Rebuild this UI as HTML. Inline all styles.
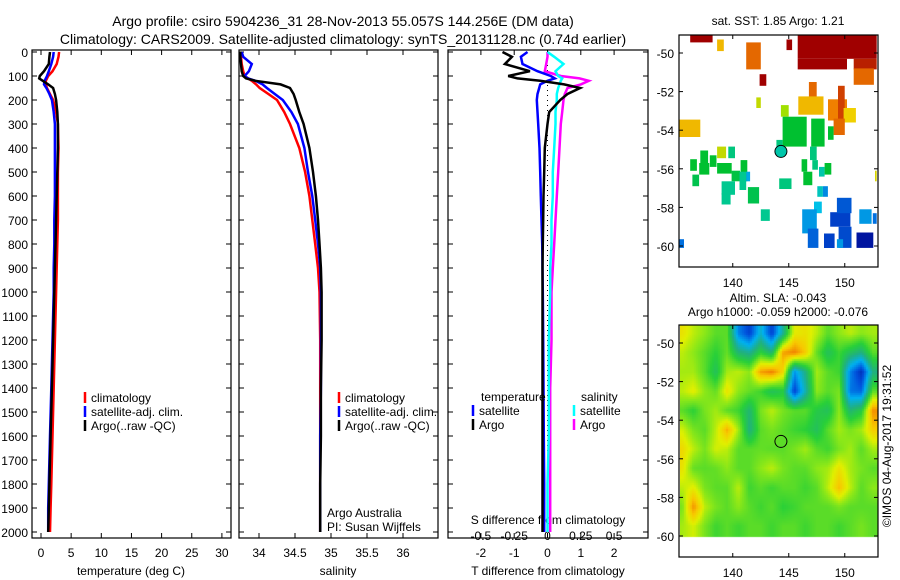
<!DOCTYPE html>
<html><head><meta charset="utf-8">
<style>
html,body{margin:0;padding:0;background:#fff;}
svg{display:block;font-family:"Liberation Sans",sans-serif;}
canvas{position:absolute;}
</style></head>
<body>
<div style="position:relative;width:900px;height:580px;">
<canvas id="sla" width="198" height="213" style="left:680px;top:325px;"></canvas>
<svg id="fig" width="900" height="580" viewBox="0 0 900 580" style="position:absolute;left:0;top:0;"></svg>
</div>
<script>
// ---------- data ----------
const depths = [0,20,50,80,100,110,120,135,150,175,200,250,300,400,500,600,700,800,900,1000,1200,1400,1600,1800,1900,2000];
const tempArgo = [1.5,1.4,1.3,0.5,-0.2,-0.3,0.3,1.2,2.0,2.3,2.5,2.7,2.8,2.8,2.7,2.6,2.5,2.4,2.3,2.2,2.0,1.8,1.6,1.4,1.3,1.2];
const tempClim = [3.0,2.9,2.6,1.9,1.2,1.0,0.8,0.8,1.0,1.5,2.0,2.5,2.8,2.9,2.8,2.8,2.8,2.7,2.6,2.5,2.3,2.1,1.9,1.7,1.6,1.5];
const tempSat  = [2.1,2.0,1.7,1.3,1.0,0.8,0.6,0.5,0.9,1.4,1.8,2.1,2.3,2.3,2.3,2.3,2.2,2.2,2.1,2.1,1.9,1.7,1.5,1.3,1.2,1.2];
const salArgo = [33.74,33.74,33.75,33.76,33.78,33.82,33.95,34.3,34.43,34.48,34.51,34.56,34.62,34.70,34.75,34.79,34.82,34.84,34.86,34.87,34.87,34.86,34.86,34.85,34.85,34.85];
const salClim = [33.75,33.75,33.76,33.78,33.80,33.85,33.9,33.96,34.01,34.13,34.25,34.35,34.43,34.56,34.64,34.70,34.74,34.78,34.82,34.84,34.85,34.85,34.85,34.85,34.85,34.85];
const salSat  = [33.76,33.78,33.9,33.86,33.8,33.85,33.95,34.05,34.11,34.22,34.33,34.45,34.54,34.63,34.68,34.74,34.78,34.82,34.85,34.86,34.86,34.86,34.85,34.85,34.85,34.85];
const dTArgo = [-1.35,-1.07,-1.28,-0.53,-1.18,-0.9,-0.22,0.5,0.98,0.6,0.38,0.05,0.0,-0.08,-0.1,-0.12,-0.13,-0.14,-0.15,-0.15,-0.15,-0.15,-0.15,-0.15,-0.15,-0.15];
const dTSat  = [-0.6,-0.8,-0.75,-0.3,0.1,0.22,0.0,-0.22,-0.25,-0.3,-0.32,-0.3,-0.28,-0.24,-0.22,-0.2,-0.18,-0.16,-0.15,-0.14,-0.13,-0.12,-0.11,-0.1,-0.1,-0.1];
const dSArgo = [0.0,0.0,-0.01,-0.02,0.1,0.24,0.31,0.25,0.15,0.13,0.12,0.11,0.10,0.09,0.08,0.07,0.06,0.05,0.04,0.03,0.03,0.02,0.02,0.02,0.02,0.02];
const dSSat  = [0.0,0.05,0.12,0.06,0.08,0.11,0.10,0.09,0.08,0.07,0.07,0.06,0.06,0.05,0.04,0.04,0.03,0.03,0.02,0.02,0.01,0.01,0.01,0.0,0.0,0.0];
const depthTicks = [0,100,200,300,400,500,600,700,800,900,1000,1100,1200,1300,1400,1500,1600,1700,1800,1900,2000];
const tempTicks = [0,5,10,15,20,25,30];
const salTicks = [34,34.5,35,35.5,36];
const dTTicks = [-2,-1,0,1,2];
const dSTicks = [-0.5,-0.25,0,0.25,0.5];
const lonTicks = [140,145,150];
const latTicks = [-50,-52,-54,-56,-58,-60];
const argoLon = 144.3, argoLat = -55.1;
const sstPatches = [
[136.2,-49.05,138.2,-49.45,1],[138.6,-49.3,139.2,-49.9,.75],[141.2,-49.45,142.5,-50.85,.85],[142.4,-51.1,143,-51.7,1],
[144.8,-49.3,145.3,-49.85,1],[145.8,-49.05,152.85,-50.3,1],[145.8,-50.3,150.2,-50.85,1],[150.8,-50.3,152.85,-50.85,.95],
[150.8,-50.8,152.6,-51.65,.85],[146.8,-51.5,147.5,-52.4,.85],[145.85,-52.25,148.1,-53.2,.75],[148.5,-52.4,150.2,-53.5,.82],
[149.4,-51.7,150,-53.5,.9],[149.9,-52.85,151,-53.6,.72],[149,-53.4,150,-54.25,.85],[142.1,-52.3,142.5,-52.85,.68],
[144.3,-52.7,145,-53.3,.65],[144.45,-53.3,146.6,-54.85,.55],[147,-53.4,148.2,-54.85,.55],[148.5,-53.8,149,-54.5,.55],
[143.9,-54.5,144.45,-55,.47],[146.9,-54.85,147.5,-55.55,.47],[147.1,-55.55,147.6,-56.05,.47],[146.15,-55.5,146.65,-56.15,.55],
[146.3,-56.15,147.1,-56.85,.55],[147.7,-55.9,148.2,-56.4,.42],[148.2,-55.7,148.8,-56.3,.55],[144.15,-56.5,145.25,-57.05,.47],
[147.55,-56.9,148.05,-57.45,.4],[148.05,-56.9,148.5,-57.45,.28],[152.7,-56.1,152.85,-56.65,.7],[135.2,-53.45,137.1,-54.35,.75],
[137.1,-55.05,137.8,-56.2,.55],[136.2,-55.5,136.8,-56.1,.55],[136.4,-56.3,137,-56.9,.52],[137,-55.7,137.9,-56.3,.55],
[137.95,-55.3,138.55,-55.9,.55],[138.6,-54.85,139.4,-55.45,.68],[139.6,-54.85,140.2,-55.45,.47],[138.6,-55.7,139.9,-56.25,.55],
[139.9,-56.1,140.65,-56.65,.53],[139,-56.65,140.2,-57.35,.45],[139,-57.25,139.8,-57.85,.45],[140.7,-55.55,141.3,-56.65,.55],
[140.6,-56.15,141.2,-57.1,.45],[141.2,-56.15,141.55,-56.65,.32],[141.35,-56.95,142.35,-57.8,.52],[142.5,-58.1,143.3,-58.7,.45],
[147.25,-57.7,147.95,-58.3,.35],[146.2,-58.1,147.5,-59.35,.3],[146.7,-59.1,147.65,-60.1,.22],[148.15,-59.35,149.1,-60.1,.15],
[148.7,-58.25,150.5,-59,.15],[149.3,-57.5,150.6,-58.3,.2],[149.45,-59,150.6,-60.1,.17],[149.3,-59.65,149.85,-60.1,.3],
[151.05,-59.3,152.55,-60.1,.05],[151.3,-58.1,152.4,-58.85,.3],[152.5,-58.3,152.85,-58.85,.25],[135.2,-59.65,135.65,-60.1,.25]
];
const slaLats = [-49.5,-50.5,-51.5,-52.5,-53.5,-54.5,-55.5,-56.5,-57.5,-58.5,-59.5];
const slaLons = [135.5,136.5,137.5,138.5,139.5,140.5,141.5,142.5,143.5,144.5,145.5,146.5,147.5,148.5,149.5,150.5,151.5,152.5];
const slaGrid = [
[.70,.64,.60,.55,.55,.22,.12,.32,.12,.38,.68,.70,.64,.55,.60,.64,.60,.62],
[.64,.60,.55,.50,.56,.42,.38,.50,.42,.80,.84,.74,.56,.45,.52,.45,.40,.55],
[.62,.62,.55,.45,.62,.64,.60,.80,.84,.72,.24,.40,.62,.55,.52,.22,.08,.40],
[.64,.68,.60,.56,.70,.60,.56,.52,.45,.48,.12,.35,.60,.55,.58,.20,.18,.55],
[.55,.50,.58,.62,.55,.52,.42,.58,.64,.58,.55,.55,.48,.45,.60,.42,.48,.82],
[.66,.58,.55,.64,.78,.62,.40,.55,.58,.55,.52,.50,.45,.55,.62,.58,.62,.74],
[.72,.64,.58,.66,.64,.55,.55,.56,.55,.55,.58,.62,.55,.52,.58,.62,.55,.62],
[.70,.56,.55,.56,.60,.55,.55,.60,.64,.58,.55,.55,.60,.62,.70,.62,.58,.55],
[.64,.68,.58,.55,.55,.64,.52,.55,.52,.55,.55,.52,.55,.64,.76,.64,.55,.60],
[.58,.82,.64,.58,.55,.60,.55,.52,.55,.50,.52,.55,.55,.55,.58,.55,.55,.55],
[.62,.66,.58,.52,.55,.52,.55,.55,.52,.55,.55,.52,.55,.55,.52,.55,.58,.55]
];

// ---------- helpers ----------
const NS='http://www.w3.org/2000/svg';
const svg=document.getElementById('fig');
function el(tag,attrs,parent,text){const e=document.createElementNS(NS,tag);for(const k in attrs)e.setAttribute(k,attrs[k]);if(text!==undefined)e.textContent=text;(parent||svg).appendChild(e);return e;}
function txt(x,y,s,anchor,size,parent){return el('text',{x:x,y:y,'font-size':size||12,'text-anchor':anchor||'start',fill:'#000'},parent,s);}
const Y0=52, YS=0.24, YTOP=50, YBOT=538;
const yD=d=>Y0+d*YS;

function panel(x0,x1,name){
  const g=el('g',{});
  
  
  el('rect',{x:x0,y:YTOP,width:x1-x0,height:YBOT-YTOP,fill:'#fff',stroke:'#000','stroke-width':1.2},g);
  depthTicks.forEach(d=>{el('line',{x1:x0,x2:x0+5,y1:yD(d),y2:yD(d),stroke:'#000'},g);el('line',{x1:x1-5,x2:x1,y1:yD(d),y2:yD(d),stroke:'#000'},g);});
  return g;
}
function line(xs,xf,color,g,name,w){
  const pts=depths.map((d,i)=>xf(xs[i]).toFixed(1)+','+yD(d).toFixed(1)).join(' ');
  const p=el('polyline',{points:pts,fill:'none',stroke:color,'stroke-width':w||2.5},g);
  
  
}
function legendEntry(x,y,color,label,g,name){
  const lg=el('g',{},g);
  
  
  if(color)el('line',{x1:x,x2:x,y1:y-10,y2:y+1,stroke:color,'stroke-width':2.5},lg);
  txt(x+6,y,label,'start',12,lg);
}

const tt=el('g',{});


txt(343,26,'Argo profile: csiro 5904236_31 28-Nov-2013 55.057S 144.256E (DM data)','middle',14,tt);
txt(343,44,'Climatology: CARS2009. Satellite-adjusted climatology: synTS_20131128.nc (0.74d earlier)','middle',14,tt);

// panel 1
const tX=v=>41+v*6.03;
const p1=panel(32,231,'temperature-panel');
depthTicks.forEach(d=>{const t=txt(28,yD(d)+5,String(d),'end',12);});
tempTicks.forEach(v=>{el('line',{x1:tX(v),x2:tX(v),y1:YTOP,y2:YTOP+5,stroke:'#000'},p1);el('line',{x1:tX(v),x2:tX(v),y1:YBOT-5,y2:YBOT,stroke:'#000'},p1);txt(tX(v),557,String(v),'middle',12,p1);});
txt(131,575,'temperature (deg C)','middle',12,p1);
line(tempClim,tX,'#ff0000',p1,'temp-climatology-line');
line(tempSat,tX,'#0000ff',p1,'temp-satellite-line');
line(tempArgo,tX,'#000000',p1,'temp-argo-line');
legendEntry(85,402,'#ff0000','climatology',p1,'legend-climatology');
legendEntry(85,416,'#0000ff','satellite-adj. clim.',p1,'legend-satellite');
legendEntry(85,430,'#000000','Argo(..raw -QC)',p1,'legend-argo');

// panel 2
const sX=v=>259+(v-34)*72;
const p2=panel(239,438,'salinity-panel');
salTicks.forEach(v=>{el('line',{x1:sX(v),x2:sX(v),y1:YTOP,y2:YTOP+5,stroke:'#000'},p2);el('line',{x1:sX(v),x2:sX(v),y1:YBOT-5,y2:YBOT,stroke:'#000'},p2);txt(sX(v),557,String(v),'middle',12,p2);});
txt(338,575,'salinity','middle',12,p2);
line(salClim,sX,'#ff0000',p2,'sal-climatology-line');
line(salSat,sX,'#0000ff',p2,'sal-satellite-line');
line(salArgo,sX,'#000000',p2,'sal-argo-line');
legendEntry(339,402,'#ff0000','climatology',p2,'legend-climatology-2');
legendEntry(339,416,'#0000ff','satellite-adj. clim.',p2,'legend-satellite-2');
legendEntry(339,430,'#000000','Argo(..raw -QC)',p2,'legend-argo-2');
txt(327,517,'Argo Australia','start',12,p2);
txt(327,531,'PI: Susan Wijffels','start',12,p2);

// panel 3
const dT=v=>547.5+v*33.3, dS=v=>547.5+v*133.2;
const p3=panel(448,648,'difference-panel');
dTTicks.forEach(v=>{el('line',{x1:dT(v),x2:dT(v),y1:YTOP,y2:YTOP+5,stroke:'#000'},p3);el('line',{x1:dT(v),x2:dT(v),y1:YBOT-5,y2:YBOT,stroke:'#000'},p3);txt(dT(v),557,String(v),'middle',12,p3);});
txt(548,524,'S difference from climatology','middle',12,p3);
dSTicks.forEach(v=>{txt(dS(v),540,String(v),'middle',12,p3);});
el('line',{x1:dT(0),x2:dT(0),y1:YTOP,y2:YBOT,stroke:'#000','stroke-dasharray':'1,4'},p3);
line(dSArgo,dS,'#ff00ff',p3,'sal-diff-argo-line');
line(dSSat,dS,'#00ffff',p3,'sal-diff-satellite-line');
line(dTSat,dT,'#0000ff',p3,'temp-diff-satellite-line');
line(dTArgo,dT,'#000000',p3,'temp-diff-argo-line');
legendEntry(475,401,null,'temperature',p3,'legend-temperature-heading');
legendEntry(473,415,'#0000ff','satellite',p3,'legend-temp-satellite');
legendEntry(473,429,'#000000','Argo',p3,'legend-temp-argo');
legendEntry(575,401,null,'salinity',p3,'legend-salinity-heading');
legendEntry(574,415,'#00ffff','satellite',p3,'legend-sal-satellite');
legendEntry(574,429,'#ff00ff','Argo',p3,'legend-sal-argo');
txt(548,575,'T difference from climatology','middle',12,p3);

// maps
const mX=lon=>679+(lon-135.2)*11.2;
function mapFrame(top,bot,latRef,name){
  const mY=lat=>latRef+(-50-lat)*19.3;
  const g=el('g',{});
  
  
  return {g,mY,top,bot};
}
function mapAxes(m){
  el('rect',{x:679,y:m.top,width:199,height:m.bot-m.top,fill:'none',stroke:'#000','stroke-width':1.2},m.g);
  lonTicks.forEach(v=>{el('line',{x1:mX(v),x2:mX(v),y1:m.top,y2:m.top+4,stroke:'#000'},m.g);el('line',{x1:mX(v),x2:mX(v),y1:m.bot-4,y2:m.bot,stroke:'#000'},m.g);txt(mX(v),m.bot+20,String(v),'middle',12,m.g);});
  latTicks.forEach(v=>{el('line',{x1:679,x2:683,y1:m.mY(v),y2:m.mY(v),stroke:'#000'},m.g);el('line',{x1:874,x2:878,y1:m.mY(v),y2:m.mY(v),stroke:'#000'},m.g);txt(674,m.mY(v)+5,String(v),'end',12,m.g);});
}
function interpStops(stops,v){
  v=Math.max(0,Math.min(1,v));
  for(let i=1;i<stops.length;i++){if(v<=stops[i][0]){const a=stops[i-1],b=stops[i],t=(v-a[0])/(b[0]-a[0]);return 'rgb('+a[1].map((c,k)=>Math.round(c+(b[1][k]-c)*t)).join(',')+')';}}
  return 'rgb('+stops[stops.length-1][1].join(',')+')';
}
function sstColor(v){
  return interpStops([[0,[0,0,140]],[.15,[0,64,200]],[.25,[0,112,224]],[.35,[0,192,232]],[.45,[0,200,144]],[.55,[0,192,48]],[.65,[160,224,0]],[.72,[240,208,0]],[.82,[240,128,0]],[.9,[208,64,0]],[1,[160,0,0]]],v);
}
function slaColor(v){
  return interpStops([[0,[0,16,150]],[.15,[0,80,220]],[.28,[0,176,240]],[.4,[32,176,128]],[.5,[40,208,56]],[.6,[140,232,24]],[.67,[224,240,0]],[.75,[248,200,0]],[.85,[240,120,0]],[1,[192,64,0]]],v);
}

const m1=mapFrame(35,267,53,'sst-map');
txt(778,25,'sat. SST: 1.85 Argo: 1.21','middle',12,m1.g);
sstPatches.forEach(p=>{
  const r=el('rect',{x:mX(p[0]).toFixed(1),y:m1.mY(p[1]).toFixed(1),width:(mX(p[2])-mX(p[0])).toFixed(1),height:(m1.mY(p[3])-m1.mY(p[1])).toFixed(1),fill:sstColor(p[4])},m1.g);
  
  
});
el('circle',{cx:mX(argoLon),cy:m1.mY(argoLat),r:6,fill:sstColor(.42),stroke:'#000'},m1.g);
mapAxes(m1);

const m2=mapFrame(325,557,343,'sla-map');
txt(778,302,'Altim. SLA: -0.043','middle',12,m2.g);
txt(778,316,'Argo h1000: -0.059 h2000: -0.076','middle',12,m2.g);
(function(){
  const cv=document.getElementById('sla'),ctx=cv.getContext('2d');
  const ox=680, oy=325, step=2;
  const latEnd=m2.mY(-60.1);
  for(let py=0;py<cv.height;py+=step){
    const Y=oy+py+step/2; if(Y>latEnd) continue;
    const lat=-50-(Y-343)/19.3;
    for(let px=0;px<cv.width;px+=step){
      const lon=135.2+(ox+px+step/2-679)/11.2;
      let fi=(lon-slaLons[0]); fi=Math.max(0,Math.min(slaLons.length-1.001,fi));
      let fj=(slaLats[0]-lat); fj=Math.max(0,Math.min(slaLats.length-1.001,fj));
      const i=Math.floor(fi),j=Math.floor(fj),a=fi-i,b=fj-j;
      const v=(slaGrid[j][i]*(1-a)+slaGrid[j][i+1]*a)*(1-b)+(slaGrid[j+1][i]*(1-a)+slaGrid[j+1][i+1]*a)*b;
      ctx.fillStyle=slaColor(v);
      ctx.fillRect(px,py,step,step);
    }
  }
})();
el('circle',{cx:mX(argoLon),cy:m2.mY(argoLat),r:6,fill:'none',stroke:'#000'},m2.g);
mapAxes(m2);
const ts=el('text',{x:0,y:0,'font-size':12,'text-anchor':'middle',transform:'translate(891,446) rotate(-90)'},svg,'©IMOS 04-Aug-2017 19:31:52');


</script>
</body></html>
